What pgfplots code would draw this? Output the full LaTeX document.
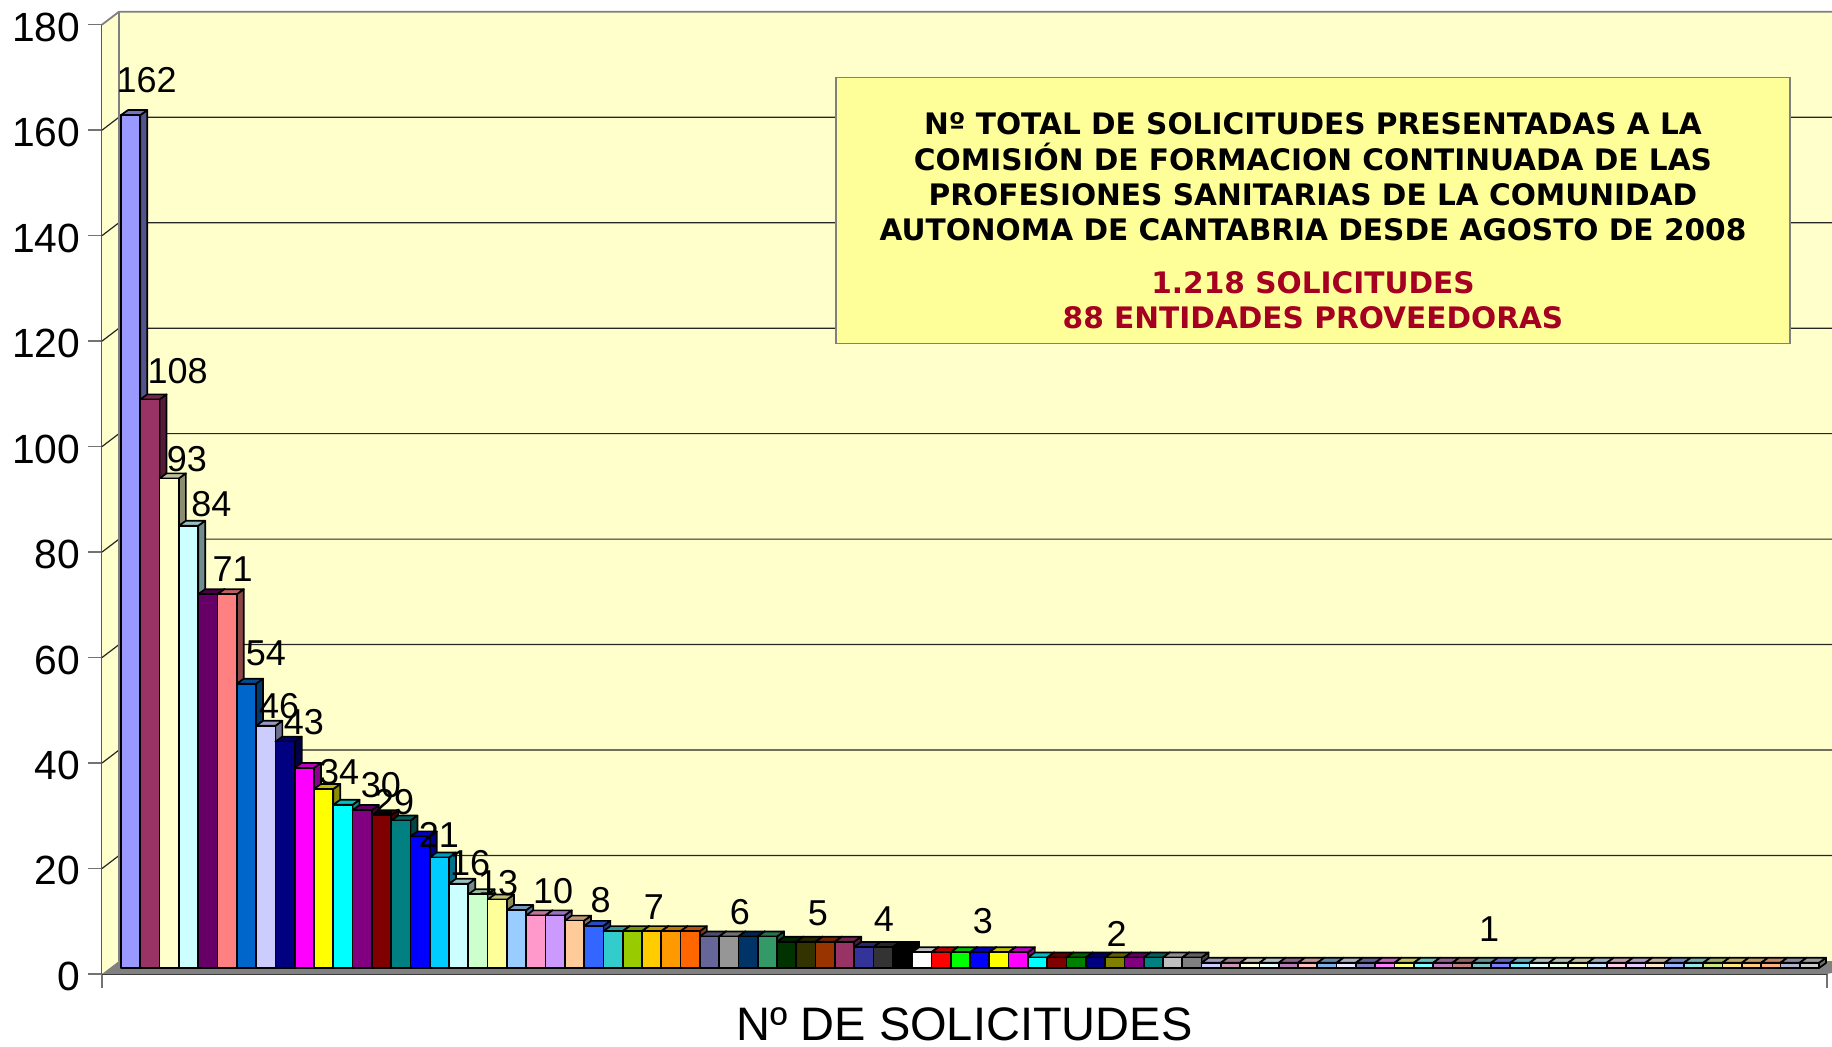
\documentclass[border=0pt]{standalone}
\usepackage{pgfplots}
\pgfplotsset{compat=1.18}
\usepackage{fontspec}
\setmainfont{Liberation Sans}
\newfontfamily\vb{DejaVu Sans}
\def\dc#1{\definecolor{c#1}{HTML}{#1}}
\dc{9999FF}\dc{993366}\dc{FFFFCC}\dc{CCFFFF}\dc{660066}\dc{FF8080}\dc{0066CC}\dc{CCCCFF}
\dc{000080}\dc{FF00FF}\dc{FFFF00}\dc{00FFFF}\dc{800080}\dc{800000}\dc{008080}\dc{0000FF}
\dc{00CCFF}\dc{CCFFCC}\dc{FFFF99}\dc{99CCFF}\dc{FF99CC}\dc{CC99FF}\dc{FFCC99}\dc{3366FF}
\dc{33CCCC}\dc{99CC00}\dc{FFCC00}\dc{FF9900}\dc{FF6600}\dc{666699}\dc{969696}\dc{003366}
\dc{339966}\dc{003300}\dc{333300}\dc{993300}\dc{333399}\dc{333333}\dc{000000}\dc{FFFFFF}
\dc{FF0000}\dc{00FF00}\dc{008000}\dc{808000}\dc{C0C0C0}\dc{808080}
\tikzset{barline/.style={draw=black,line width=0.85pt,line join=round}}
% \tdbar{index}{value}{colour}: side, top and front of one bar
\newcommand{\tdbar}[3]{%
  \pgfmathsetmacro\xb{#1+1}\pgfmathsetmacro\xc{#1+1.363}\pgfmathsetmacro\xd{#1+0.363}\pgfmathsetmacro\yt{#2+0.95}%
  \edef\tmp{%
    \noexpand\addplot[barline,fill=#3!55!black] coordinates {(\xb,0)(\xc,0.95)(\xc,\yt)(\xb,#2)} -- cycle;
    \noexpand\addplot[barline,fill=#3!75!black] coordinates {(#1,#2)(\xb,#2)(\xc,\yt)(\xd,\yt)} -- cycle;
    \noexpand\addplot[barline,fill=#3] coordinates {(#1,0)(\xb,0)(\xb,#2)(#1,#2)} -- cycle;
  }\tmp}
\newcommand{\pale}[2]{\tdbar{#1}{1}{c#2!50!white}}
\pgfplotstableread{
x y label
1.33 168.66 162
2.93 113.3 108
3.42 96.7 93
4.69 88.2 84
5.78 75.8 71
7.51 59.8 54
8.19 49.8 46
9.48 46.7 43
11.30 37.3 34
13.47 34.8 30
14.15 31.6 29
16.48 25.3 21
18.09 19.9 16
19.54 16.1 13
22.39 14.7 10
24.86 12.9 8
27.62 11.6 7
32.08 10.7 6
36.12 10.3 5
39.54 9.3 4
44.67 9.0 3
51.6 6.5 2
70.9 7.4 1
}\labelsdata
\begin{document}
\begin{tikzpicture}[x=0.5pt,y=0.5pt]
\useasboundingbox (0,0) rectangle (1832,1046);
\clip (0,0) rectangle (1832,1046);
% frame axis: ticks, walls, floor, grid
\begin{axis}[
  at={(51pt,36pt)},anchor=south west,scale only axis,
  width=862.5pt,height=474.65pt,
  xmin=0,xmax=88,ymin=0,ymax=180,clip=false,
  axis x line*=bottom,axis y line*=left,
  x axis line style={-,color=black!80,line width=0.8pt},
  y axis line style={-,color=black!65,line width=0.8pt},
  xtick={0,88},xticklabels={},
  ytick={0,20,...,180},
  tick align=outside,
  major tick length=7pt,
  tick style={color=black!55,line width=0.7pt},
  /pgf/number format/assume math mode=true,
  tick label style={font=\fontsize{20.4}{24}\selectfont,color=black},
  yticklabel style={yshift=-1.2pt},
  yticklabel shift=0.4pt,
  xlabel={Nº DE SOLICITUDES},
  xlabel style={at={(axis description cs:0.5,-0.0535)},anchor=center,inner sep=0pt,
    font=\fontsize{23.5}{28}\selectfont},
]
\addplot[fill=cFFFFCC,draw=none] coordinates {(0.867,2.46)(91,2.46)(91,182.6)(0.867,182.6)} -- cycle;
\addplot[fill=cFFFFCC,draw=none] coordinates {(0,0)(0.867,2.46)(0.867,182.46)(0,180)} -- cycle;
\addplot[fill=c808080,draw=none] coordinates {(0,0)(0.867,2.46)(91,2.46)(88,0)} -- cycle;
\addplot[color=black!85,line width=0.6pt] coordinates {(0,20)(0.867,22.46)(91,22.46)};
\addplot[color=black!85,line width=0.6pt] coordinates {(0,40)(0.867,42.46)(91,42.46)};
\addplot[color=black!85,line width=0.6pt] coordinates {(0,60)(0.867,62.46)(91,62.46)};
\addplot[color=black!85,line width=0.6pt] coordinates {(0,80)(0.867,82.46)(91,82.46)};
\addplot[color=black!85,line width=0.6pt] coordinates {(0,100)(0.867,102.46)(91,102.46)};
\addplot[color=black!85,line width=0.6pt] coordinates {(0,120)(0.867,122.46)(91,122.46)};
\addplot[color=black!85,line width=0.6pt] coordinates {(0,140)(0.867,142.46)(91,142.46)};
\addplot[color=black!85,line width=0.6pt] coordinates {(0,160)(0.867,162.46)(91,162.46)};
\addplot[color=black!50,line width=0.9pt] coordinates {(0,180)(0.867,182.46)(91,182.46)};
\addplot[color=black!50,line width=0.9pt] coordinates {(0.867,2.46)(0.867,182.46)};
\end{axis}
% bars axis: same value scale, set back by the depth of the floor
\begin{axis}[
  at={(60.5pt,39pt)},anchor=south west,scale only axis,
  width=849pt,height=473.85pt,
  xmin=0,xmax=88,ymin=0,ymax=180,clip=false,hide axis,
]
\tdbar{0}{162}{c9999FF}\tdbar{1}{108}{c993366}\tdbar{2}{93}{cFFFFCC}\tdbar{3}{84}{cCCFFFF}
\tdbar{4}{71}{c660066}\tdbar{5}{71}{cFF8080}\tdbar{6}{54}{c0066CC}\tdbar{7}{46}{cCCCCFF}
\tdbar{8}{43}{c000080}\tdbar{9}{38}{cFF00FF}\tdbar{10}{34}{cFFFF00}\tdbar{11}{31}{c00FFFF}
\tdbar{12}{30}{c800080}\tdbar{13}{29}{c800000}\tdbar{14}{28}{c008080}\tdbar{15}{25}{c0000FF}
\tdbar{16}{21}{c00CCFF}\tdbar{17}{16}{cCCFFFF}\tdbar{18}{14}{cCCFFCC}\tdbar{19}{13}{cFFFF99}
\tdbar{20}{11}{c99CCFF}\tdbar{21}{10}{cFF99CC}\tdbar{22}{10}{cCC99FF}\tdbar{23}{9}{cFFCC99}
\tdbar{24}{8}{c3366FF}\tdbar{25}{7}{c33CCCC}\tdbar{26}{7}{c99CC00}\tdbar{27}{7}{cFFCC00}
\tdbar{28}{7}{cFF9900}\tdbar{29}{7}{cFF6600}\tdbar{30}{6}{c666699}\tdbar{31}{6}{c969696}
\tdbar{32}{6}{c003366}\tdbar{33}{6}{c339966}\tdbar{34}{5}{c003300}\tdbar{35}{5}{c333300}
\tdbar{36}{5}{c993300}\tdbar{37}{5}{c993366}\tdbar{38}{4}{c333399}\tdbar{39}{4}{c333333}
\tdbar{40}{4}{c000000}\tdbar{41}{3}{cFFFFFF}\tdbar{42}{3}{cFF0000}\tdbar{43}{3}{c00FF00}
\tdbar{44}{3}{c0000FF}\tdbar{45}{3}{cFFFF00}\tdbar{46}{3}{cFF00FF}\tdbar{47}{2}{c00FFFF}
\tdbar{48}{2}{c800000}\tdbar{49}{2}{c008000}\tdbar{50}{2}{c000080}\tdbar{51}{2}{c808000}
\tdbar{52}{2}{c800080}\tdbar{53}{2}{c008080}\tdbar{54}{2}{cC0C0C0}\tdbar{55}{2}{c808080}
\pale{56}{9999FF}\pale{57}{993366}\pale{58}{FFFFCC}\pale{59}{CCFFFF}\pale{60}{660066}
\pale{61}{FF8080}\pale{62}{0066CC}\pale{63}{CCCCFF}\pale{64}{000080}\pale{65}{FF00FF}
\pale{66}{FFFF00}\pale{67}{00FFFF}\pale{68}{800080}\pale{69}{800000}\pale{70}{008080}
\pale{71}{0000FF}\pale{72}{00CCFF}\pale{73}{CCFFFF}\pale{74}{CCFFCC}\pale{75}{FFFF99}
\pale{76}{99CCFF}\pale{77}{FF99CC}\pale{78}{CC99FF}\pale{79}{FFCC99}\pale{80}{3366FF}
\pale{81}{33CCCC}\pale{82}{99CC00}\pale{83}{FFCC00}\pale{84}{FF9900}\pale{85}{FF6600}
\pale{86}{666699}\pale{87}{969696}
\addplot[draw=none,mark=none,nodes near coords,point meta=explicit symbolic,
  every node near coord/.style={anchor=center,inner sep=0pt,font=\fontsize{18}{21}\selectfont,color=black}]
  table[x=x,y=y,meta=label] {\labelsdata};
\end{axis}
% text box
\draw[fill=cFFFF99,draw=black!50,line width=0.8pt] (836,702.5) rectangle (1790,968.5);
\begin{scope}[every node/.style={anchor=center,inner sep=0pt,font=\vb\bfseries\fontsize{14.8}{18}\selectfont}]
\node at (1313,922.3) {Nº TOTAL DE SOLICITUDES PRESENTADAS A LA};
\node at (1313,889.3) {COMISIÓN DE FORMACION CONTINUADA DE LAS};
\node at (1313,851) {PROFESIONES SANITARIAS DE LA COMUNIDAD};
\node at (1313,816) {AUTONOMA DE CANTABRIA DESDE AGOSTO DE 2008};
\node at (1313,763.4) {\color[HTML]{A50021}1.218 SOLICITUDES};
\node at (1313,728.4) {\color[HTML]{A50021}88 ENTIDADES PROVEEDORAS};
\end{scope}
\end{tikzpicture}
\end{document}
